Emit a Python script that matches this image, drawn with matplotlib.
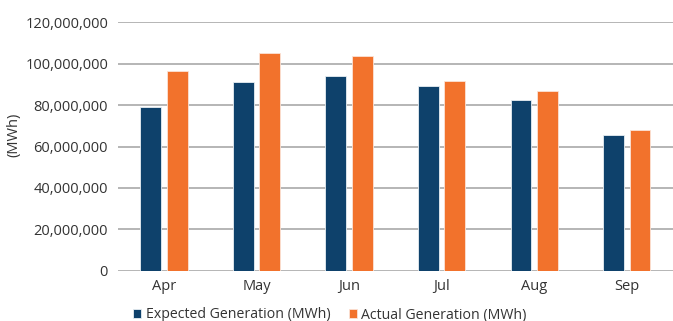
import matplotlib.pyplot as plt
import numpy as np
from matplotlib.ticker import FuncFormatter

months = ["Apr", "May", "Jun", "Jul", "Aug", "Sep"]
expected = [79.1e6, 91.0e6, 94.2e6, 89.0e6, 82.6e6, 65.7e6]
actual = [96.5e6, 105.0e6, 103.5e6, 91.8e6, 86.8e6, 68.0e6]

plt.rcParams["font.family"] = ["Open Sans", "DejaVu Sans"]

fig = plt.figure(figsize=(6.73, 3.21), dpi=100)
ax = fig.add_axes([0.175, 0.156, 0.825, 0.775])

x = np.arange(len(months))
w = 0.225
off = 0.143
ax.bar(x - off, expected, w, color="#0E416B", edgecolor="#E8EEF3", linewidth=0.6,
       label="Expected Generation (MWh)", zorder=3)
ax.bar(x + off, actual, w, color="#F2722C", edgecolor="#FBE3D6", linewidth=0.6,
       label="Actual Generation (MWh)", zorder=3)

ax.set_xlim(-0.5, len(months) - 0.5)
ax.set_ylim(0, 120e6)
ax.set_yticks(np.arange(0, 120e6 + 1, 20e6))
ax.yaxis.set_major_formatter(FuncFormatter(lambda v, p: f"{v:,.0f}"))
ax.set_xticks(x)
ax.set_xticklabels(months)
ax.grid(axis="y", color="#A9A9A9", linewidth=1.2, zorder=0)
for s in ax.spines.values():
    s.set_visible(False)
ax.tick_params(axis="both", length=0, labelsize=10.5, colors="#333333")
ax.tick_params(axis="x", pad=6)
ax.tick_params(axis="y", pad=7)

fig.text(14 / 673, 0.58, "(MWh)", rotation=90, ha="center", va="center",
         fontsize=10.5, color="#333333")

fig.legend(loc="center", bbox_to_anchor=(0.49, 6 / 321), ncol=2, frameon=False,
           fontsize=10.2, handlelength=0.6, handleheight=0.6, handletextpad=0.3,
           columnspacing=1.3, labelcolor="#333333")

fig.savefig("out.png", dpi=100)
